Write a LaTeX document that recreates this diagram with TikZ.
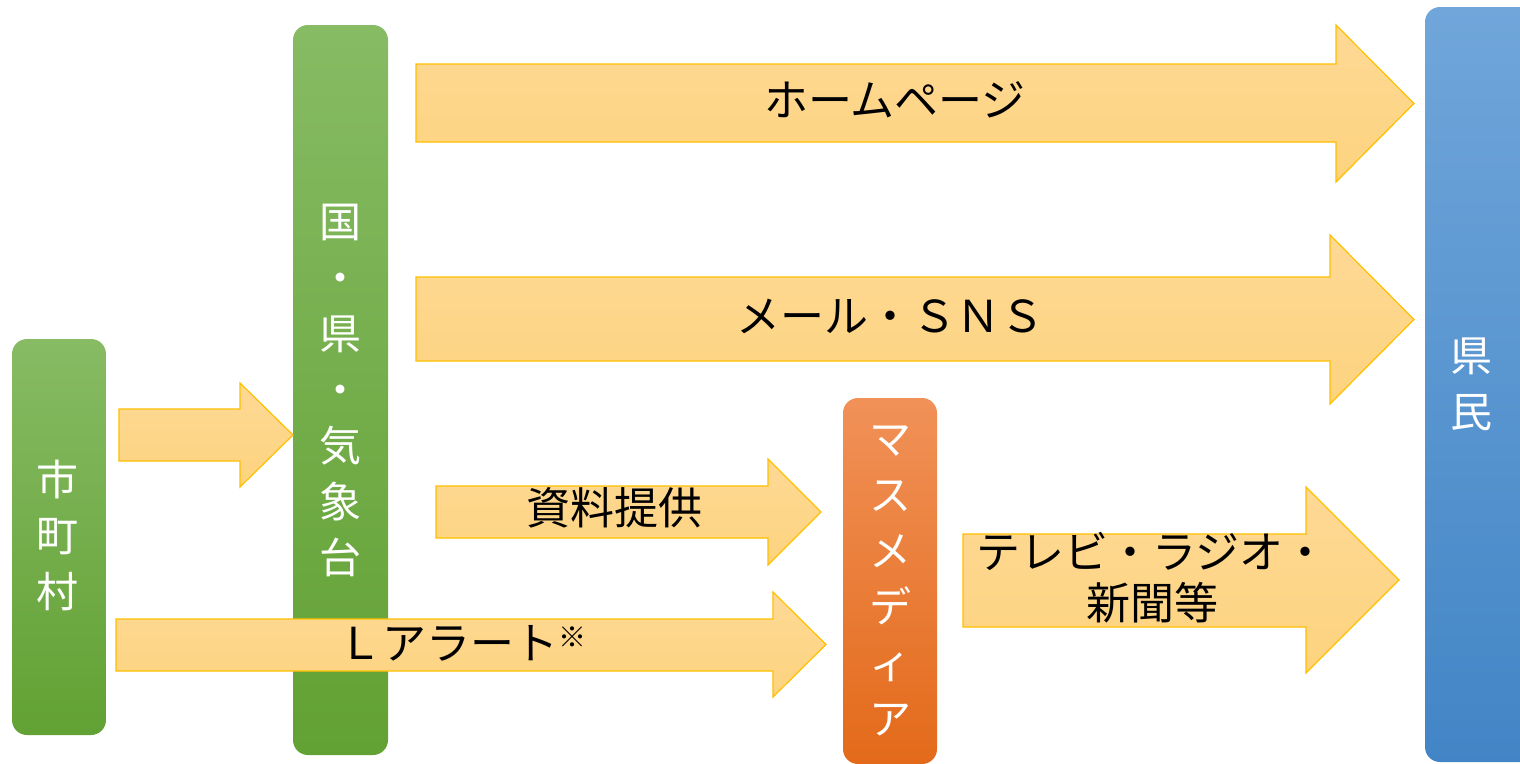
\documentclass[tikz,border=0pt]{standalone}
\usepackage{fontspec}
\setmainfont{Noto Sans CJK JP}
\definecolor{gA}{HTML}{87BB64}
\definecolor{gB}{HTML}{62A133}
\definecolor{oA}{HTML}{F19158}
\definecolor{oB}{HTML}{E36A1A}
\definecolor{bA}{HTML}{70A6DA}
\definecolor{bB}{HTML}{4285C6}
\definecolor{arrtop}{HTML}{FED996}
\definecolor{arrbot}{HTML}{FDD37E}
\definecolor{arrline}{HTML}{FFC000}
\newcommand\blockarr[8]{%
  \path[barrow] (#2,#3) -- (#5,#3) -- (#5,#6) -- (#8,{(#6+#7)/2}) -- (#5,#7) -- (#5,#4) -- (#2,#4) -- cycle;
  \coordinate (#1) at (#8,{(#6+#7)/2});}
\begin{document}
\begin{tikzpicture}[x=1pt,y=-1pt,
  box/.style={rectangle, rounded corners=15pt, inner sep=0pt, text=white, align=center,
    font=\fontsize{42}{56}\selectfont},
  vtext/.style={inner sep=0pt, text=white, align=center, font=\fontsize{42}{56}\selectfont},
  barrow/.style={draw=arrline, line width=1.2pt, top color=arrtop, bottom color=arrbot, line join=miter},
  hlabel/.style={text=black, align=center, font=\fontsize{44}{51}\selectfont, inner sep=0pt}]
\clip (0,0) rectangle (1520,763);
\fill[white] (0,0) rectangle (1520,763);
% boxes
\node[box, top color=gA, bottom color=gB, minimum width=94pt, minimum height=396pt] (shi) at (59,537) {};
\node[vtext] (shitext) at (57,535) {市\\町\\村};
\node[box, top color=gA, bottom color=gB, minimum width=95pt, minimum height=730pt] (kuni) at (340.5,390) {国\\・\\県\\・\\気\\象\\台};
\node[box, top color=oA, bottom color=oB, minimum width=94pt, minimum height=366pt] (media) at (890,581) {マ\\ス\\メ\\デ\\ィ\\ア};
\node[box, top color=bA, bottom color=bB, minimum width=120pt, minimum height=755pt] (kenmin) at (1485,384.5) {};
\node[vtext] (kenmintext) at (1471,384) {県\\民};
% block arrows
\blockarr{a1}{119}{409}{461}{240}{383}{487}{293}
\blockarr{a2}{416}{64}{142}{1336}{25}{182}{1414}
\blockarr{a3}{416}{277}{361}{1330}{235}{404}{1414}
\blockarr{a4}{436}{486}{538}{768}{459}{565}{821}
\blockarr{a5}{116}{619}{671}{773}{592}{697}{826}
\blockarr{a6}{963}{534}{627}{1306}{487}{673}{1399}
% labels
\node[hlabel] (hp) at (895,100) {ホームページ};
\node[hlabel] (mail) at (890,316) {メール・ＳＮＳ};
\node[hlabel] (shiryo) at (614,508) {資料提供};
\node[hlabel] (lalert) at (462,643) {Ｌアラート\raisebox{12pt}{\fontsize{28}{28}\selectfont ※}};
\node[hlabel] (tv) at (1152,578) {テレビ・ラジオ・\\新聞等};
\end{tikzpicture}
\end{document}
